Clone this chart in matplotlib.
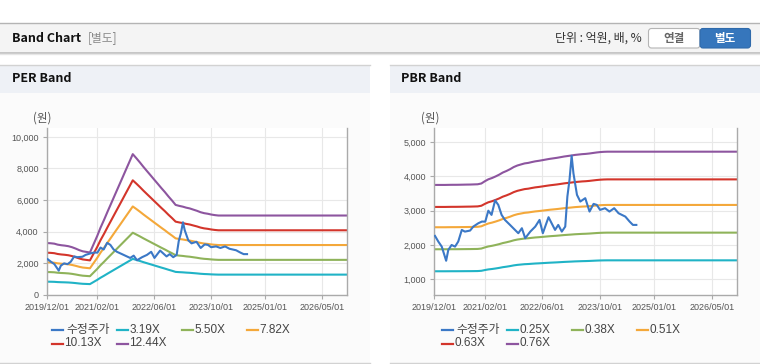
import matplotlib
matplotlib.use('Agg')
import matplotlib.pyplot as plt
import matplotlib.dates as mdates
from matplotlib.patches import Rectangle, FancyBboxPatch
from matplotlib.ticker import FuncFormatter
import pandas as pd

plt.rcParams['font.family'] = ['Liberation Sans', 'Noto Sans CJK KR']

## data

months = pd.date_range('2019-12-01', '2026-12-01', freq='MS')

# EPS (PER band = EPS * multiple)
eps = [264, 263, 261, 256, 253, 251, 248, 243, 236, 228, 222, 219,
       216, 258, 300, 342, 383, 425, 467, 508, 550, 592, 633, 675,
       716, 695, 673, 652, 630, 609, 587, 566, 544, 523, 501, 480,
       458, 453, 449, 444, 440, 434, 428, 421, 416, 413, 409, 406,
       404] + [404] * 36

# BPS (PBR band = BPS * multiple)
bps = [4935, 4935, 4935, 4935, 4938, 4940, 4940, 4942, 4945, 4948, 4950, 4955, 4960,
       4990, 5080, 5150, 5200, 5260, 5330, 5410, 5470, 5540, 5620, 5680, 5720,
       5760, 5780, 5810, 5840, 5860, 5885, 5910, 5935, 5955, 5975, 6000, 6025,
       6045, 6065, 6085, 6100, 6115, 6125, 6140, 6160, 6180, 6195, 6205, 6210] + [6210] * 36

per_mult = [3.19, 5.50, 7.82, 10.13, 12.44]
pbr_mult = [0.25, 0.38, 0.51, 0.63, 0.76]

price_dates = ['2019-12-07', '2020-01-04', '2020-02-02', '2020-03-10', '2020-03-28',
               '2020-04-25', '2020-05-24', '2020-06-20', '2020-07-20', '2020-08-15',
               '2020-09-28', '2020-10-25', '2020-12-07', '2021-01-06', '2021-02-03',
               '2021-03-01', '2021-03-28', '2021-04-27', '2021-05-24', '2021-06-21',
               '2021-07-19', '2021-08-31', '2021-10-12', '2021-11-09', '2021-12-09',
               '2022-01-06', '2022-02-18', '2022-04-01', '2022-05-07', '2022-06-04',
               '2022-07-22', '2022-09-15', '2022-10-12', '2022-11-11', '2022-12-10',
               '2022-12-28', '2023-01-15', '2023-02-02', '2023-02-17', '2023-03-19',
               '2023-04-16', '2023-05-28', '2023-07-03', '2023-08-06', '2023-09-02',
               '2023-09-30', '2023-11-11', '2023-12-18', '2024-01-27', '2024-03-04',
               '2024-04-30', '2024-06-05', '2024-07-03', '2024-08-01']
price = [2264, 2098, 1952, 1540, 1855,
         2000, 1952, 2100, 2439, 2390,
         2420, 2536, 2635, 2683, 2680,
         3000, 2877, 3300, 3169, 2877,
         2731, 2585, 2439, 2343, 2489,
         2197, 2390, 2536, 2731, 2343,
         2810, 2439, 2585, 2390, 2536,
         3412, 3899, 4600, 4095, 3461,
         3266, 3365, 2974, 3198, 3169,
         3023, 3072, 2974, 3072, 2925,
         2828, 2683, 2585, 2585]

xticks = ['2019/12/01', '2021/02/01', '2022/06/01', '2023/10/01', '2025/01/01', '2026/05/01']

price_col = '#3b78c6'
band_cols = ['#20b3c6', '#8fb35a', '#f4a83a', '#d3352b', '#8d559f']

## figure, background drawn in pixel coords

W, H = 760, 364
fig = plt.figure(figsize=(W / 100, H / 100), dpi=100)
bg = fig.add_axes([0, 0, 1, 1])
bg.set_xlim(0, W)
bg.set_ylim(H, 0)
bg.axis('off')

bg.add_patch(Rectangle((0, 22.5), W, 30, fc='#f4f4f4', ec='none'))
bg.plot([0, W], [22.5, 22.5], color='#b4b4b4', lw=1)
bg.plot([0, W], [52.8, 52.8], color='#bdbdbd', lw=1.2)
bg.plot([0, W], [54.2, 54.2], color='#e6e6e6', lw=1)

for x0, x1 in [(0, 369.5), (390, W)]:
    bg.add_patch(Rectangle((x0, 64.5), x1 - x0, 298, fc='#fbfbfb', ec='none'))
    bg.add_patch(Rectangle((x0, 64.5), x1 - x0, 28.5, fc='#eef1f6', ec='none'))
    bg.plot([x0, x1], [64.5, 64.5], color='#d2d2d2', lw=1)
    bg.plot([x0, x1], [362.8, 362.8], color='#d2d2d2', lw=1)

bg.text(12, 38, 'Band Chart', fontsize=9, fontweight='bold', color='#111111', va='center',
        family=['Noto Sans CJK KR'])
bg.text(88, 38, '[별도]', fontsize=8.5, color='#8a8a8a', va='center', family=['Noto Sans CJK KR'])
bg.text(642, 38, '단위 : 억원, 배, %', fontsize=8.6, color='#333333', va='center', ha='right',
        family=['Noto Sans CJK KR'])
bg.add_patch(FancyBboxPatch((648.5, 28.5), 51.5, 19.5, boxstyle='round,pad=0,rounding_size=3',
                            fc='white', ec='#b5b5b5', lw=0.8))
bg.add_patch(FancyBboxPatch((700, 28.5), 50.5, 19.5, boxstyle='round,pad=0,rounding_size=3',
                            fc='#3676bc', ec='#2f6aab', lw=0.8))
bg.text(674, 38.5, '연결', fontsize=8.3, fontweight='bold', color='#666666', ha='center', va='center',
        family=['Noto Sans CJK KR'])
bg.text(725, 38.5, '별도', fontsize=8.3, fontweight='bold', color='white', ha='center', va='center',
        family=['Noto Sans CJK KR'])

bg.text(12, 79, 'PER Band', fontsize=9, fontweight='bold', color='#111111', va='center',
        family=['Noto Sans CJK KR'])
bg.text(401, 79, 'PBR Band', fontsize=9, fontweight='bold', color='#111111', va='center',
        family=['Noto Sans CJK KR'])


def band_chart(rect, base, mults, yticks, ylim, unit_x, legend_x):
    ax = fig.add_axes(rect)
    ax.set_facecolor('white')
    for m, c in zip(mults, band_cols):
        ax.plot(months, [b * m for b in base], color=c, lw=1.5, zorder=2)
    ax.plot(pd.to_datetime(price_dates), price, color=price_col, lw=1.5, zorder=3)

    ax.set_xlim(pd.Timestamp('2019-12-01'), pd.Timestamp('2026-12-01'))
    ax.set_ylim(*ylim)
    ax.set_xticks(pd.to_datetime(xticks))
    ax.xaxis.set_major_formatter(mdates.DateFormatter('%Y/%m/%d'))
    ax.set_yticks(yticks)
    ax.yaxis.set_major_formatter(FuncFormatter(lambda v, p: f'{v:,.0f}'))
    ax.grid(color='#e8e8e8', lw=0.8)
    ax.set_axisbelow(True)
    ax.tick_params(labelsize=6.5, labelcolor='#555555', color='#aaaaaa', length=3, width=0.8, pad=3)
    for s in ['left', 'bottom', 'right']:
        ax.spines[s].set_color('#aaaaaa')
        ax.spines[s].set_linewidth(1)
    ax.spines['top'].set_visible(False)

    bg.text(unit_x, 118, '(원)', fontsize=8.3, color='#555555', ha='center', va='center',
            family=['Noto Sans CJK KR'])

    labels = ['수정주가'] + [f'{m:.2f}X' for m in mults]
    colors = [price_col] + band_cols
    for i, (lab, c) in enumerate(zip(labels, colors)):
        x = legend_x + (i % 4) * 65
        y = 330 + (i // 4) * 13.5
        bg.plot([x, x + 11], [y, y], color=c, lw=1.6)
        bg.text(x + (14 if i == 0 else 12.5), y, lab, fontsize=8.5, color='#444444', va='center')
    return ax


band_chart([47 / W, 1 - 295 / H, 300 / W, 167 / H], eps, per_mult,
           range(0, 10001, 2000), (0, 10560), 42, 52)
band_chart([434.3 / W, 1 - 295 / H, 303 / W, 167 / H], bps, pbr_mult,
           range(1000, 5001, 1000), (542, 5410), 430, 442)

fig.savefig('out.png', dpi=100)
